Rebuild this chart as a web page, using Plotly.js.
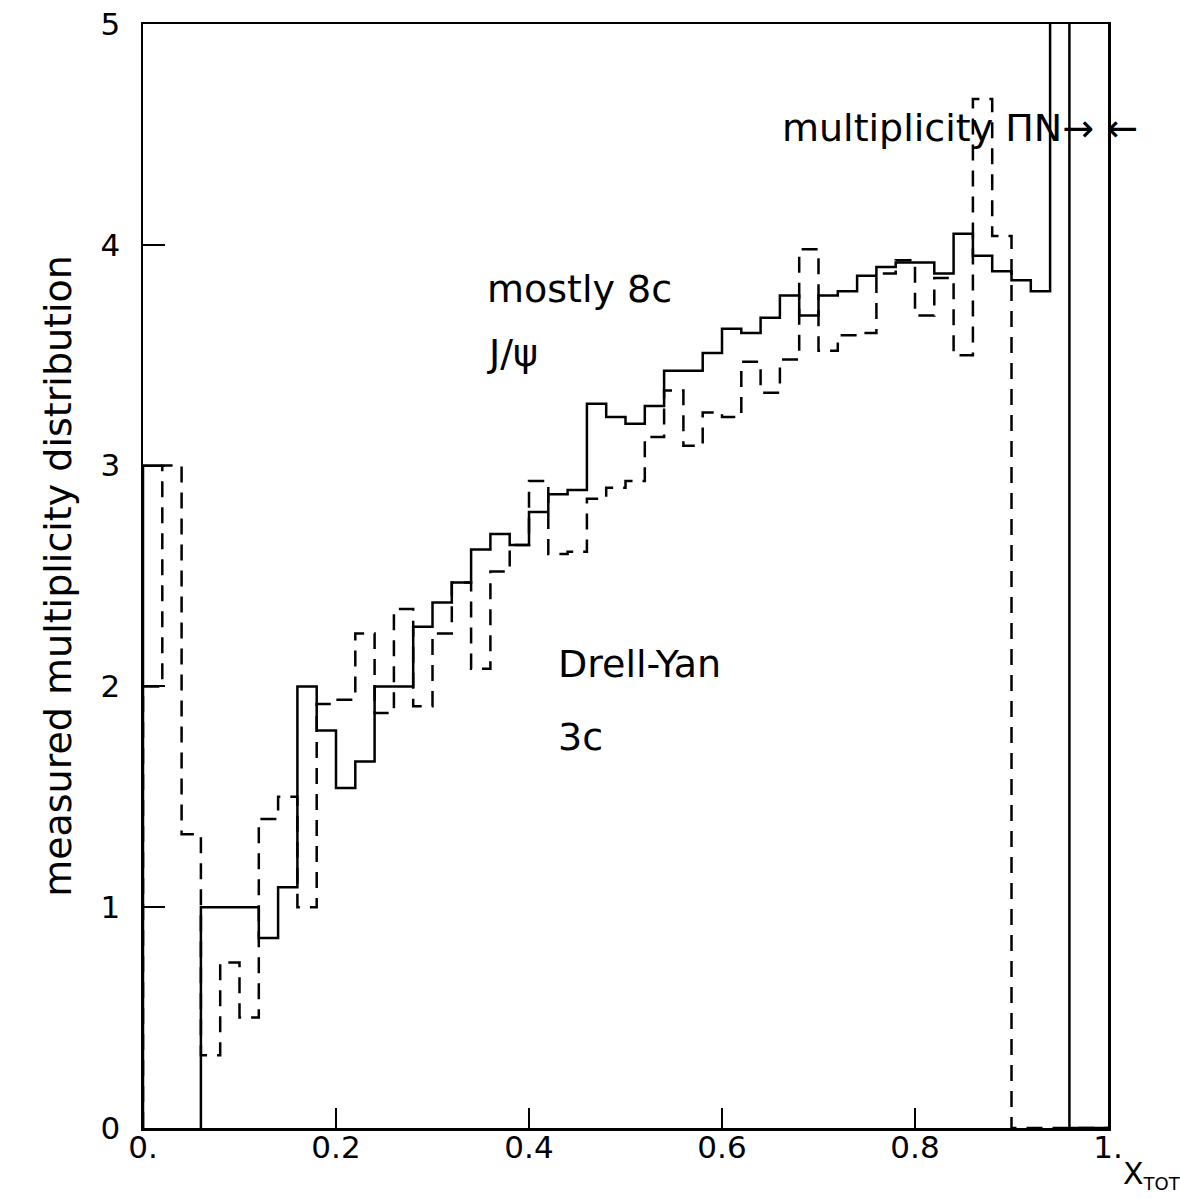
<!DOCTYPE html>
<html><head><meta charset="utf-8">
<script src="https://cdn.plot.ly/plotly-3.0.1.min.js"></script>
<style>html,body{margin:0;padding:0;background:#fff}</style>
</head><body>
<div id="chart" style="width:1180px;height:1198px"></div>
<script>
// bin edges of the x_TOT histogram (bin width 0.02)
const binEdges = [0.00,0.02,0.04,0.06,0.08,0.10,0.12,0.14,0.16,0.18,
                  0.20,0.22,0.24,0.26,0.28,0.30,0.32,0.34,0.36,0.38,
                  0.40,0.42,0.44,0.46,0.48,0.50,0.52,0.54,0.56,0.58,
                  0.60,0.62,0.64,0.66,0.68,0.70,0.72,0.74,0.76,0.78,
                  0.80,0.82,0.84,0.86,0.88,0.90,0.92,0.94,0.96,0.98,1.00];

// solid histogram (mostly 8c, J/psi)
const solidValues = [3.00,null,null,1.00,1.00,1.00,0.86,1.09,2.00,1.80,
                     1.54,1.66,2.00,2.00,2.27,2.38,2.47,2.62,2.69,2.64,
                     2.79,2.87,2.89,3.28,3.22,3.19,3.27,3.43,3.43,3.51,
                     3.62,3.60,3.67,3.77,3.68,3.77,3.79,3.86,3.90,3.92,
                     3.92,3.87,4.05,3.95,3.88,3.84,3.79,6.50,0.00,0.00];

// dashed histogram (Drell-Yan, 3c)
const dashedValues = [2.00,3.00,1.33,0.33,0.75,0.50,1.40,1.50,1.00,1.92,
                      1.94,2.24,1.88,2.35,1.91,2.24,2.47,2.08,2.52,2.64,
                      2.93,2.60,2.61,2.85,2.90,2.93,3.13,3.34,3.09,3.24,
                      3.22,3.47,3.33,3.48,3.98,3.52,3.59,3.60,3.87,3.93,
                      3.68,3.85,3.50,4.66,4.04,0.00,0.00,0.00,0.00,0.00];

const xTickVals = [0, 0.2, 0.4, 0.6, 0.8, 1.0];
const xTickText = ["0.", "0.2", "0.4", "0.6", "0.8", "1."];
const yTickVals = [0, 1, 2, 3, 4, 5];
const yTickText = ["0", "1", "2", "3", "4", "5"];

function stepPath(edges, vals) {
  const xs = [], ys = [];
  let prev = null;
  for (let i = 0; i < vals.length; i++) {
    const v = vals[i];
    if (v === null) {
      if (prev !== null) { xs.push(null); ys.push(null); }
      prev = null;
      continue;
    }
    if (prev === null) { xs.push(edges[i]); ys.push(0); }
    xs.push(edges[i]); ys.push(v);
    xs.push(edges[i + 1]); ys.push(v);
    prev = v;
  }
  xs.push(edges[vals.length]); ys.push(0);
  return {xs, ys};
}

const sp = stepPath(binEdges, solidValues);
const dp = stepPath(binEdges, dashedValues);

const FONT = "DejaVu Sans, sans-serif";

const traces = [
  {x: dp.xs, y: dp.ys, mode: "lines", type: "scatter", connectgaps: false,
   line: {color: "#000", width: 2.5, dash: "16px,10px"}, hoverinfo: "skip", name: "Drell-Yan"},
  {x: sp.xs, y: sp.ys, mode: "lines", type: "scatter", connectgaps: false,
   line: {color: "#000", width: 2.5}, hoverinfo: "skip", name: "J/psi"}
];

const layout = {
  width: 1180, height: 1198,
  margin: {l: 143, r: 72, t: 24, b: 70},
  paper_bgcolor: "#fff", plot_bgcolor: "#fff",
  showlegend: false,
  font: {family: FONT, color: "#000"},
  xaxis: {
    range: [0, 1], tickvals: xTickVals, ticktext: xTickText,
    ticks: "inside", ticklen: 20, tickwidth: 2, tickcolor: "#000",
    showline: true, linewidth: 2.5, linecolor: "#000", mirror: true,
    showgrid: false, zeroline: false,
    tickfont: {size: 31, family: FONT}, ticklabelstandoff: -10
  },
  yaxis: {
    range: [0, 5], tickvals: yTickVals, ticktext: yTickText,
    ticks: "inside", ticklen: 22, tickwidth: 2, tickcolor: "#000",
    showline: true, linewidth: 2.5, linecolor: "#000", mirror: true,
    showgrid: false, zeroline: false,
    tickfont: {size: 31, family: FONT}, ticklabelstandoff: 14,
    title: {text: "measured multiplicity distribution", font: {size: 38, family: FONT}, standoff: 18}
  },
  annotations: [
    {x: 0.354, y: 3.80, xref: "x", yref: "y", text: "mostly 8c", showarrow: false,
     xanchor: "left", yanchor: "middle", font: {size: 38, family: FONT}},
    {x: 0.354, y: 3.51, xref: "x", yref: "y", text: "J/ψ", showarrow: false,
     xanchor: "left", yanchor: "middle", font: {size: 38, family: FONT}},
    {x: 0.428, y: 2.10, xref: "x", yref: "y", text: "Drell-Yan", showarrow: false,
     xanchor: "left", yanchor: "middle", font: {size: 38, family: FONT}},
    {x: 0.428, y: 1.77, xref: "x", yref: "y", text: "3c", showarrow: false,
     xanchor: "left", yanchor: "middle", font: {size: 38, family: FONT}},
    {x: 0.660, y: 4.53, xref: "x", yref: "y", text: "multiplicity ΠN→ ←", showarrow: false,
     xanchor: "left", yanchor: "middle", font: {size: 38, family: FONT}},
    {x: 1.013, y: -0.0616, xref: "paper", yref: "paper",
     text: "X<sub><span style='font-size:18px'>TOT</span></sub>", showarrow: false,
     xanchor: "left", yanchor: "bottom", font: {size: 30, family: FONT}}
  ]
};

Plotly.newPlot("chart", traces, layout, {staticPlot: true, displayModeBar: false});
</script>
</body></html>
